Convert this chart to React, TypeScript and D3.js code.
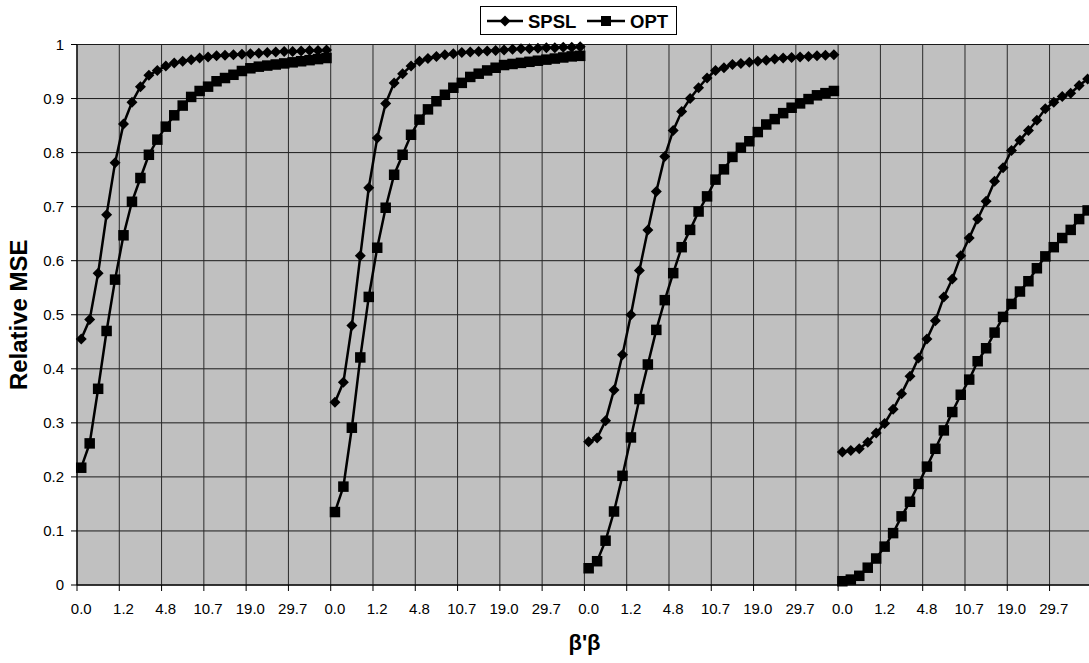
import * as d3 from "d3";

// β'β tick labels, repeated for each of the 4 panels (every 5th category)
const tickLabels = ["0.0", "1.2", "4.8", "10.7", "19.0", "29.7"];
const perSegment = 30;
const numSegments = 4;

// SPSL relative MSE, one array per panel (30 categories each)
const spsl1 = [0.455, 0.491, 0.577, 0.685, 0.781, 0.853, 0.893, 0.922, 0.943, 0.952, 0.96, 0.966, 0.969, 0.972, 0.975, 0.977, 0.979, 0.98, 0.981, 0.982, 0.983, 0.984, 0.985, 0.986, 0.987, 0.987, 0.988, 0.989, 0.989, 0.99];
const spsl2 = [0.338, 0.375, 0.48, 0.609, 0.735, 0.827, 0.891, 0.929, 0.946, 0.96, 0.969, 0.974, 0.978, 0.981, 0.983, 0.985, 0.986, 0.987, 0.988, 0.989, 0.99, 0.991, 0.992, 0.992, 0.993, 0.994, 0.994, 0.995, 0.995, 0.996];
const spsl3 = [0.265, 0.272, 0.304, 0.361, 0.426, 0.5, 0.582, 0.657, 0.728, 0.793, 0.841, 0.876, 0.9, 0.92, 0.938, 0.952, 0.957, 0.963, 0.965, 0.967, 0.969, 0.971, 0.973, 0.975, 0.976, 0.977, 0.978, 0.979, 0.98, 0.981];
const spsl4 = [0.246, 0.249, 0.252, 0.264, 0.281, 0.299, 0.325, 0.354, 0.386, 0.42, 0.455, 0.489, 0.533, 0.566, 0.609, 0.642, 0.677, 0.71, 0.747, 0.772, 0.804, 0.823, 0.841, 0.86, 0.881, 0.893, 0.904, 0.91, 0.924, 0.936];

// OPT relative MSE
const opt1 = [0.217, 0.262, 0.363, 0.47, 0.565, 0.647, 0.709, 0.753, 0.796, 0.824, 0.848, 0.869, 0.887, 0.903, 0.914, 0.922, 0.932, 0.938, 0.944, 0.951, 0.956, 0.959, 0.961, 0.963, 0.965, 0.967, 0.969, 0.971, 0.973, 0.975];
const opt2 = [0.135, 0.182, 0.291, 0.421, 0.533, 0.624, 0.698, 0.759, 0.796, 0.833, 0.861, 0.88, 0.895, 0.907, 0.92, 0.929, 0.94, 0.946, 0.952, 0.957, 0.962, 0.964, 0.966, 0.968, 0.97, 0.972, 0.974, 0.976, 0.978, 0.979];
const opt3 = [0.031, 0.044, 0.082, 0.136, 0.202, 0.273, 0.344, 0.408, 0.472, 0.527, 0.577, 0.625, 0.657, 0.691, 0.719, 0.75, 0.769, 0.792, 0.809, 0.821, 0.838, 0.852, 0.862, 0.873, 0.883, 0.891, 0.899, 0.906, 0.91, 0.914];
const opt4 = [0.007, 0.01, 0.017, 0.032, 0.049, 0.071, 0.096, 0.127, 0.154, 0.187, 0.219, 0.252, 0.286, 0.32, 0.352, 0.38, 0.414, 0.438, 0.467, 0.496, 0.52, 0.543, 0.562, 0.586, 0.608, 0.625, 0.642, 0.657, 0.677, 0.693];

const spslSegments = [spsl1, spsl2, spsl3, spsl4];
const optSegments = [opt1, opt2, opt3, opt4];
const yTicks = [0, 0.1, 0.2, 0.3, 0.4, 0.5, 0.6, 0.7, 0.8, 0.9, 1];

const W = 1089;
const H = 663;
const font = "'Liberation Sans', Arial, Helvetica, sans-serif";
const margin = { top: 44.5, left: 77, bottom: 78 };
const step = 8.457;

const diamond = "M0,-5.5L5.5,0L0,5.5L-5.5,0Z";
const sq = 10.5;

export default function App() {
  const nCats = perSegment * numSegments;
  const cats = d3.range(nCats);
  const x = d3
    .scaleBand<number>()
    .domain(cats)
    .range([margin.left, margin.left + nCats * step])
    .padding(0);
  const y = d3.scaleLinear().domain([0, 1]).range([H - margin.bottom, margin.top]);
  const bw = x.bandwidth();
  const cx = (c: number) => x(c)! + bw / 2;
  const plotRight = margin.left + nCats * step;
  const plotBottom = y(0);

  const segPath = (vals: number[], seg: number) =>
    d3
      .line<number>()
      .x((_, i) => cx(seg * perSegment + i))
      .y((d) => y(d))(vals) ?? "";

  // gridline / tick positions every 5 categories
  const gridCats = cats.filter((c) => c % 5 === 0);

  return (
    <svg width={W} height={H} style={{ position: "absolute", left: 0, top: 0, background: "#fff" }} fontFamily={font}>
      {/* plot area */}
      <rect x={margin.left} y={margin.top} width={plotRight - margin.left} height={plotBottom - margin.top} fill="#c0c0c0" stroke="#808080" strokeWidth={1} />

      {/* horizontal gridlines */}
      {yTicks.map((t) => (
        <line key={"h" + t} x1={margin.left} x2={plotRight} y1={y(t)} y2={y(t)} stroke="#1a1a1a" strokeWidth={1} />
      ))}
      {/* vertical gridlines */}
      {gridCats.map((c) => (
        <line key={"v" + c} x1={x(c)!} x2={x(c)!} y1={margin.top} y2={plotBottom} stroke="#2a2a2a" strokeWidth={1} />
      ))}

      {/* axes */}
      <line x1={margin.left} x2={margin.left} y1={margin.top} y2={plotBottom} stroke="#000" />
      <line x1={margin.left} x2={plotRight} y1={plotBottom} y2={plotBottom} stroke="#000" />
      {yTicks.map((t) => (
        <g key={"yt" + t}>
          <line x1={margin.left - 6} x2={margin.left} y1={y(t)} y2={y(t)} stroke="#000" />
          <text x={64} y={y(t)} dy="0.35em" textAnchor="end" fontSize={15}>
            {d3.format("~g")(t)}
          </text>
        </g>
      ))}
      {gridCats.map((c) => (
        <g key={"xt" + c}>
          <line x1={x(c)!} x2={x(c)!} y1={plotBottom} y2={plotBottom + 6} stroke="#000" />
          <text x={cx(c)} y={614} textAnchor="middle" fontSize={15}>
            {tickLabels[(c % perSegment) / 5]}
          </text>
        </g>
      ))}

      {/* axis titles */}
      <text x={584.5} y={650} textAnchor="middle" fontSize={22} fontWeight="bold">
        β'β
      </text>
      <text transform={`translate(27,${(margin.top + plotBottom) / 2}) rotate(-90)`} textAnchor="middle" fontSize={24} fontWeight="bold">
        Relative MSE
      </text>

      {/* SPSL series */}
      {spslSegments.map((vals, s) => (
        <g key={"spsl" + s}>
          <path d={segPath(vals, s)} fill="none" stroke="#000" strokeWidth={2.5} />
          {vals.map((v, i) => (
            <path key={i} d={diamond} transform={`translate(${cx(s * perSegment + i)},${y(v)})`} fill="#000" />
          ))}
        </g>
      ))}

      {/* OPT series */}
      {optSegments.map((vals, s) => (
        <g key={"opt" + s}>
          <path d={segPath(vals, s)} fill="none" stroke="#000" strokeWidth={2.5} />
          {vals.map((v, i) => (
            <rect key={i} x={cx(s * perSegment + i) - sq / 2} y={y(v) - sq / 2} width={sq} height={sq} fill="#000" />
          ))}
        </g>
      ))}

      {/* legend */}
      <g>
        <rect x={480.5} y={6.5} width={196} height={28} fill="#fff" stroke="#000" />
        <line x1={487} x2={523} y1={21} y2={21} stroke="#000" strokeWidth={2.5} />
        <path d={diamond} transform="translate(505,21)" fill="#000" />
        <text x={528} y={28} fontSize={18.5} fontWeight="bold">
          SPSL
        </text>
        <line x1={587} x2={625} y1={21} y2={21} stroke="#000" strokeWidth={2.5} />
        <rect x={601} y={16} width={10} height={10} fill="#000" />
        <text x={630} y={28} fontSize={18.5} fontWeight="bold">
          OPT
        </text>
      </g>
    </svg>
  );
}
